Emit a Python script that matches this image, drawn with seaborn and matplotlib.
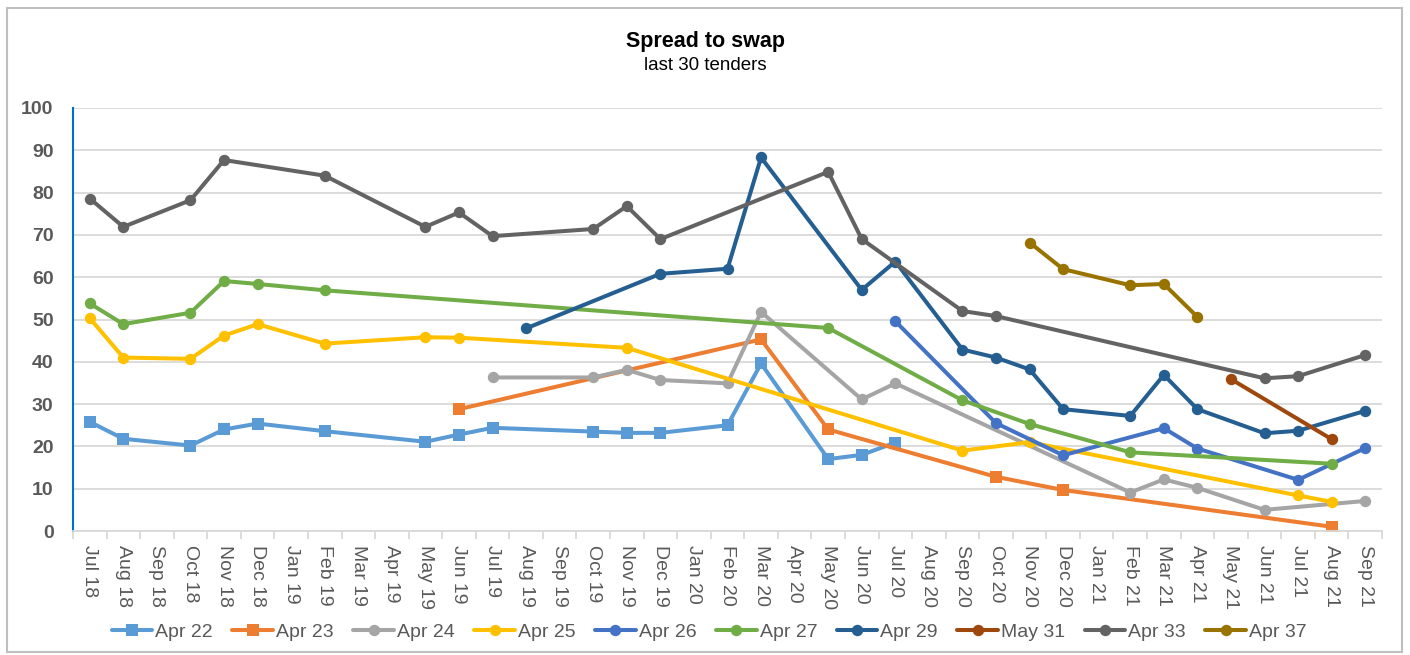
import matplotlib
matplotlib.use("Agg")
import matplotlib.pyplot as plt
import seaborn as sns
import pandas as pd
from matplotlib.patches import Rectangle
from matplotlib.ticker import FixedLocator, MultipleLocator

months = ["Jul 18", "Aug 18", "Sep 18", "Oct 18", "Nov 18", "Dec 18", "Jan 19", "Feb 19",
          "Mar 19", "Apr 19", "May 19", "Jun 19", "Jul 19", "Aug 19", "Sep 19", "Oct 19",
          "Nov 19", "Dec 19", "Jan 20", "Feb 20", "Mar 20", "Apr 20", "May 20", "Jun 20",
          "Jul 20", "Aug 20", "Sep 20", "Oct 20", "Nov 20", "Dec 20", "Jan 21", "Feb 21",
          "Mar 21", "Apr 21", "May 21", "Jun 21", "Jul 21", "Aug 21", "Sep 21"]

apr22_m = ["Jul 18", "Aug 18", "Oct 18", "Nov 18", "Dec 18", "Feb 19", "May 19", "Jun 19",
           "Jul 19", "Oct 19", "Nov 19", "Dec 19", "Feb 20", "Mar 20", "May 20", "Jun 20", "Jul 20"]
apr22_v = [25.8, 21.8, 20.2, 24.0, 25.4, 23.6, 21.1, 22.8,
           24.4, 23.5, 23.2, 23.2, 25.0, 39.6, 17.0, 18.0, 20.9]

apr23_m = ["Jun 19", "Mar 20", "May 20", "Oct 20", "Dec 20", "Aug 21"]
apr23_v = [28.8, 45.3, 24.0, 12.8, 9.7, 1.0]

apr24_m = ["Jul 19", "Oct 19", "Nov 19", "Dec 19", "Feb 20", "Mar 20", "Jun 20", "Jul 20",
           "Feb 21", "Mar 21", "Apr 21", "Jun 21", "Sep 21"]
apr24_v = [36.3, 36.3, 38.1, 35.7, 34.9, 51.8, 31.1, 34.9,
           9.1, 12.2, 10.2, 5.0, 7.1]

apr25_m = ["Jul 18", "Aug 18", "Oct 18", "Nov 18", "Dec 18", "Feb 19", "May 19", "Jun 19",
           "Nov 19", "Sep 20", "Nov 20", "Jul 21", "Aug 21"]
apr25_v = [50.3, 41.0, 40.7, 46.2, 48.9, 44.3, 45.8, 45.7,
           43.3, 19.0, 21.0, 8.4, 6.9]

apr26_m = ["Jul 20", "Oct 20", "Dec 20", "Mar 21", "Apr 21", "Jul 21", "Sep 21"]
apr26_v = [49.6, 25.5, 17.9, 24.3, 19.5, 12.1, 19.6]

apr27_m = ["Jul 18", "Aug 18", "Oct 18", "Nov 18", "Dec 18", "Feb 19", "May 20", "Sep 20",
           "Nov 20", "Feb 21", "Aug 21"]
apr27_v = [53.8, 48.9, 51.6, 59.1, 58.4, 56.9, 48.0, 30.9,
           25.3, 18.6, 15.9]

apr29_m = ["Aug 19", "Dec 19", "Feb 20", "Mar 20", "Jun 20", "Jul 20", "Sep 20", "Oct 20",
           "Nov 20", "Dec 20", "Feb 21", "Mar 21", "Apr 21", "Jun 21", "Jul 21", "Sep 21"]
apr29_v = [47.9, 60.8, 62.0, 88.3, 57.0, 63.7, 42.9, 41.0,
           38.2, 28.8, 27.2, 36.9, 28.8, 23.1, 23.7, 28.4]

may31_m = ["May 21", "Aug 21"]
may31_v = [35.9, 21.7]

apr33_m = ["Jul 18", "Aug 18", "Oct 18", "Nov 18", "Feb 19", "May 19", "Jun 19", "Jul 19",
           "Oct 19", "Nov 19", "Dec 19", "May 20", "Jun 20", "Sep 20", "Oct 20", "Jun 21",
           "Jul 21", "Sep 21"]
apr33_v = [78.6, 71.9, 78.2, 87.7, 84.0, 71.9, 75.3, 69.7,
           71.4, 76.8, 69.0, 84.9, 69.0, 52.0, 50.8, 36.1,
           36.6, 41.6]

apr37_m = ["Nov 20", "Dec 20", "Feb 21", "Mar 21", "Apr 21"]
apr37_v = [68.2, 61.9, 58.1, 58.4, 50.6]

series_names = ["Apr 22", "Apr 23", "Apr 24", "Apr 25", "Apr 26", "Apr 27",
                "Apr 29", "May 31", "Apr 33", "Apr 37"]
series_data = [(apr22_m, apr22_v), (apr23_m, apr23_v), (apr24_m, apr24_v), (apr25_m, apr25_v),
               (apr26_m, apr26_v), (apr27_m, apr27_v), (apr29_m, apr29_v), (may31_m, may31_v),
               (apr33_m, apr33_v), (apr37_m, apr37_v)]
colors = ["#5B9BD5", "#ED7D31", "#A5A5A5", "#FFC000", "#4472C4", "#70AD47",
          "#255E91", "#9E480E", "#636363", "#997300"]
markers = ["s", "s", "o", "o", "o", "o", "o", "o", "o", "o"]

sns.set_theme(style="white")
plt.rcParams['font.family'] = ['Liberation Sans', 'DejaVu Sans']

fig = plt.figure(figsize=(14.1, 6.55), dpi=100)
ax = fig.add_axes([73/1410, 1-531/655, (1382-73)/1410, (531-108)/655])

for name, (m, v), c, mk in zip(series_names, series_data, colors, markers):
    df = pd.DataFrame({"x": [months.index(s) for s in m], "y": v})
    sns.lineplot(data=df, x="x", y="y", ax=ax, color=c, linewidth=2.9,
                 marker=mk, markersize=8.2 if mk == "o" else 8.0, markeredgewidth=0,
                 label=name, sort=False)

ax.set_xlim(-0.5, len(months) - 0.5)
ax.set_ylim(0, 100)
ax.yaxis.set_major_locator(MultipleLocator(10))
ax.grid(axis="y", color="#D9D9D9", linewidth=1.3)
ax.set_axisbelow(True)
ax.set_xlabel("")
ax.set_ylabel("")

ax.set_xticks(range(len(months)))
ax.set_xticklabels(months, rotation=270, fontsize=14, color="#595959")
ax.xaxis.set_minor_locator(FixedLocator([i - 0.5 for i in range(len(months) + 1)]))
ax.tick_params(axis="x", which="major", length=0, pad=10)
ax.tick_params(axis="x", which="minor", length=6, color="#D9D9D9", width=1.3, bottom=True)
ax.tick_params(axis="y", length=0, pad=14, labelsize=14, labelcolor="#595959")
for lbl in ax.get_yticklabels():
    lbl.set_fontweight("bold")

for s in ["top", "right"]:
    ax.spines[s].set_visible(False)
ax.spines["bottom"].set_color("#D9D9D9")
ax.spines["bottom"].set_linewidth(1.3)
ax.spines["left"].set_color("#0070C0")
ax.spines["left"].set_linewidth(1.5)

ax.get_legend().remove()
handles, labels = ax.get_legend_handles_labels()
fig.legend(handles, labels, loc="center", bbox_to_anchor=(0.503, 1 - 632/655), ncol=10,
           frameon=False, fontsize=14, labelcolor="#595959", handlelength=2.1,
           handletextpad=0.15, columnspacing=1.0)

fig.text(0.5, 1 - 41/655, "Spread to swap", ha="center", va="center", fontsize=15.5,
         fontweight="bold", color="black")
fig.text(0.5, 1 - 65/655, "last 30 tenders", ha="center", va="center", fontsize=13.5,
         color="black")

fig.patches.append(Rectangle((7/1410, 1 - 652/655), (1402-7)/1410, (652-8)/655,
                             transform=fig.transFigure, fill=False, edgecolor="#BFBFBF",
                             linewidth=1.5))

fig.savefig("out.png", dpi=100, facecolor="white")
